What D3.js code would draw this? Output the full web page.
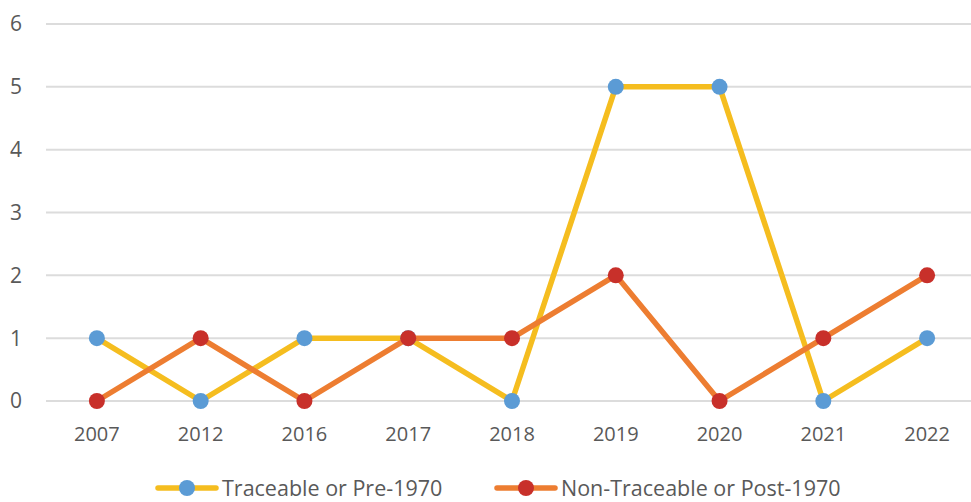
<!DOCTYPE html>
<html>
<head>
<meta charset="utf-8">
<script src="https://cdn.jsdelivr.net/npm/d3@7"></script>
<style>
  body { margin: 0; background: #fff; }
  text { font-family: "Open Sans", "Liberation Sans", sans-serif; fill: #595959; }
</style>
</head>
<body>
<svg width="971" height="502"></svg>
<script>
var years = ["2007", "2012", "2016", "2017", "2018", "2019", "2020", "2021", "2022"];
var traceable = [1, 0, 1, 1, 0, 5, 5, 0, 1];
var nonTraceable = [0, 1, 0, 1, 1, 2, 0, 1, 2];
var yTicks = [0, 1, 2, 3, 4, 5, 6];

var series = [
  { name: "Traceable or Pre-1970", values: traceable, line: "#f5bd1f", dot: "#5b9bd5" },
  { name: "Non-Traceable or Post-1970", values: nonTraceable, line: "#ed7d31", dot: "#c8302a" }
];

var svg = d3.select("svg");

var x = d3.scalePoint()
    .domain(years)
    .range([45, 979])
    .padding(0.5);

var y = d3.scaleLinear()
    .domain([0, 6])
    .range([401, 24]);

// gridlines
svg.append("g")
  .selectAll("line")
  .data(yTicks)
  .enter().append("line")
    .attr("x1", 46)
    .attr("x2", 971)
    .attr("y1", function(d) { return y(d); })
    .attr("y2", function(d) { return y(d); })
    .attr("stroke", "#dcdcdc")
    .attr("stroke-width", 2);

// y labels
svg.append("g")
  .selectAll("text")
  .data(yTicks)
  .enter().append("text")
    .attr("x", 16)
    .attr("y", function(d) { return y(d); })
    .attr("dy", "0.35em")
    .attr("text-anchor", "middle")
    .attr("font-size", 21)
    .text(function(d) { return d; });

// x labels
svg.append("g")
  .selectAll("text")
  .data(years)
  .enter().append("text")
    .attr("x", function(d) { return x(d); })
    .attr("y", 434)
    .attr("dy", "0.35em")
    .attr("text-anchor", "middle")
    .attr("font-size", 20)
    .text(function(d) { return d; });

var line = d3.line()
    .x(function(d, i) { return x(years[i]); })
    .y(function(d) { return y(d); });

series.forEach(function(s) {
  svg.append("path")
    .datum(s.values)
    .attr("fill", "none")
    .attr("stroke", s.line)
    .attr("stroke-width", 5.5)
    .attr("stroke-linejoin", "round")
    .attr("d", line);

  svg.append("g")
    .selectAll("circle")
    .data(s.values)
    .enter().append("circle")
      .attr("cx", function(d, i) { return x(years[i]); })
      .attr("cy", function(d) { return y(d); })
      .attr("r", 8)
      .attr("fill", s.dot);
});

// legend
var legendX = [158, 497];
var legend = svg.append("g")
  .selectAll("g")
  .data(series)
  .enter().append("g")
    .attr("transform", function(d, i) { return "translate(" + legendX[i] + ",488)"; });

legend.append("line")
    .attr("x1", 0)
    .attr("x2", 58)
    .attr("stroke", function(d) { return d.line; })
    .attr("stroke-width", 5.5)
    .attr("stroke-linecap", "round");

legend.append("circle")
    .attr("cx", 29)
    .attr("r", 8)
    .attr("fill", function(d) { return d.dot; });

legend.append("text")
    .attr("x", 64)
    .attr("dy", "0.35em")
    .attr("font-size", 21.5)
    .text(function(d) { return d.name; });
</script>
</body>
</html>
